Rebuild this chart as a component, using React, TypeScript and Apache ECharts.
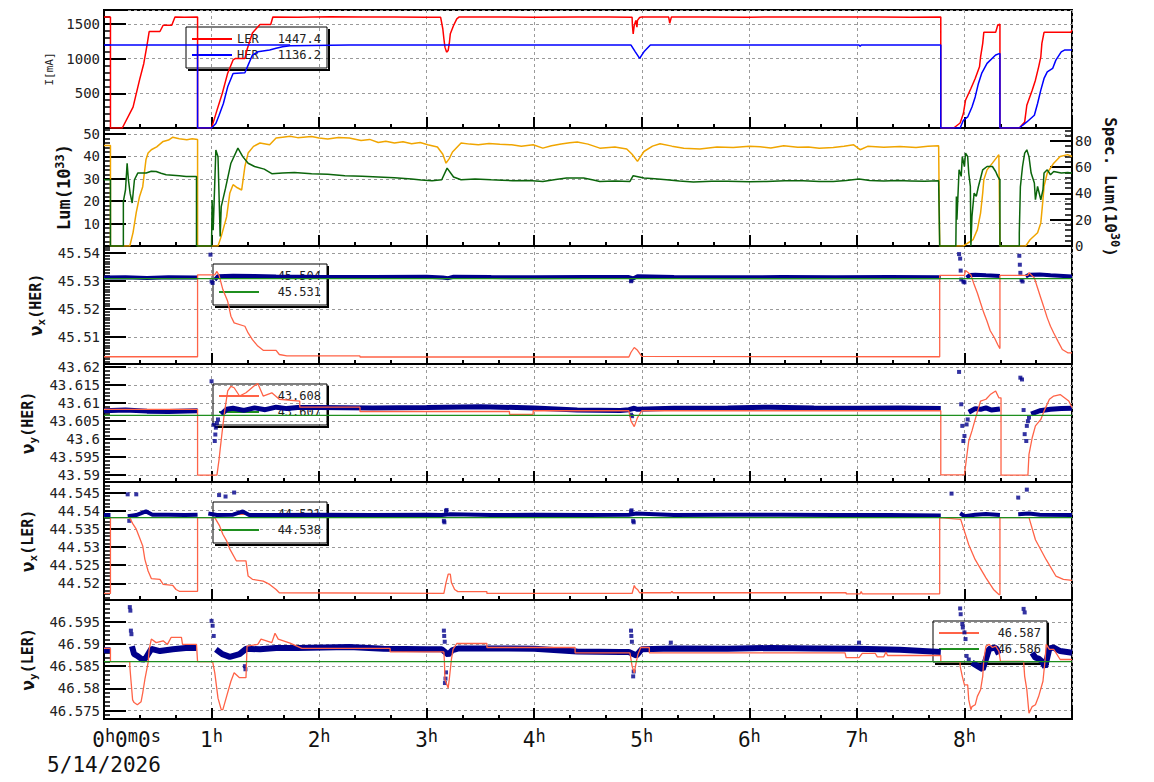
import React, { useEffect, useRef } from "react";
import * as echarts from "echarts";

type Pt = [number, number | string];

const dateLabel = "5/14/2026";

const lerCurrent: Pt[] = [
  [0, 1598], [0.06, 1600], [0.06, 0], [0.17, 0], [0.27, 300], [0.33, 690], [0.37, 930], [0.4, 1195], [0.42, 1390], [0.52, 1390],
  [0.55, 1480], [0.63, 1480], [0.66, 1600], [0.75, 1596], [0.87, 1600], [0.87, 0],
  [1.0, 0], [1.05, 254], [1.1, 500], [1.15, 790], [1.2, 980], [1.22, 1000], [1.31, 1000], [1.33, 1130], [1.38, 1370], [1.45, 1490],
  [1.55, 1490], [1.57, 1600], [1.8, 1597], [2.1, 1601], [2.4, 1598], [2.7, 1600], [3.0, 1597],
  [3.13, 1595], [3.15, 1430], [3.16, 1286], [3.17, 1165], [3.185, 1093], [3.2, 1117], [3.21, 1214], [3.22, 1358], [3.25, 1477], [3.28, 1573], [3.3, 1598],
  [3.6, 1600], [4.0, 1597], [4.4, 1600], [4.7, 1598], [4.91, 1595], [4.913, 1477], [4.92, 1357], [4.93, 1477], [4.945, 1550], [4.955, 1454],
  [4.96, 1550], [4.98, 1592], [5.0, 1598], [5.25, 1598], [5.26, 1510], [5.275, 1598], [5.6, 1600], [6.0, 1597], [6.4, 1600], [6.8, 1598],
  [7.2, 1600], [7.5, 1597], [7.78, 1599], [7.78, 0],
  [7.9, 0], [7.96, 72], [7.99, 208], [8.01, 400], [8.06, 569], [8.1, 714], [8.14, 881], [8.15, 1026], [8.17, 1220], [8.18, 1378],
  [8.29, 1378], [8.31, 1484], [8.33, 1494], [8.33, 0],
  [8.51, 0], [8.56, 87], [8.58, 328], [8.63, 545], [8.66, 689], [8.69, 881], [8.71, 1026], [8.72, 1220], [8.74, 1378], [8.99, 1378], [9.0, 1410],
];
const herCurrent: Pt[] = [
  [0, 1195], [0.87, 1195], [0.87, 0], [1.0, 0], [1.04, 64], [1.07, 184], [1.11, 353], [1.15, 593], [1.2, 786], [1.31, 795], [1.34, 906],
  [1.38, 1051], [1.43, 1098], [1.54, 1123], [1.6, 1148], [1.66, 1171], [1.73, 1185], [2.28, 1195],
  [4.9, 1195], [4.94, 1098], [4.98, 1003], [5.02, 1098], [5.08, 1195], [7.02, 1195], [7.03, 1176], [7.04, 1195], [7.78, 1195], [7.78, 0],
  [7.96, 0], [7.99, 111], [8.03, 159], [8.07, 303], [8.1, 448], [8.13, 642], [8.16, 786], [8.21, 931], [8.29, 1051], [8.33, 1075], [8.33, 0],
  [8.51, 0], [8.54, 39], [8.58, 87], [8.65, 184], [8.68, 353], [8.71, 545], [8.74, 714], [8.77, 809], [8.82, 858], [8.85, 978],
  [8.9, 1098], [8.93, 1123], [9.0, 1123],
];
const herCurrentHold: Pt[] = [[0.87, 1195], [1.73, 1195]];

const lum: Pt[] = [
  [0, 44.9], [0.06, 44.9], [0.06, 0], [0.24, 0], [0.27, 6], [0.3, 15], [0.33, 22], [0.36, 26.5], [0.39, 38.5], [0.41, 41.5], [0.44, 43],
  [0.49, 44.3], [0.55, 46.7], [0.6, 47.3], [0.64, 48.6], [0.7, 47.9], [0.77, 47.5], [0.82, 47.9], [0.87, 47.6], [0.87, 0],
  [1.06, 0], [1.09, 4.3], [1.14, 13], [1.17, 23.7], [1.2, 27.4], [1.24, 26], [1.28, 25], [1.31, 35.5], [1.34, 41.5], [1.39, 44.5],
  [1.45, 46], [1.54, 45.2], [1.6, 48.2], [1.66, 48.6], [1.73, 49], [1.8, 48.4], [1.93, 48.9], [2.0, 48.2], [2.08, 47.8], [2.18, 48.5],
  [2.28, 48.2], [2.39, 47.1], [2.47, 47.6], [2.55, 46.2], [2.62, 46.8], [2.7, 46], [2.78, 46.6], [2.86, 45.7], [2.94, 46.2], [3.01, 45.2],
  [3.1, 44.2], [3.15, 41], [3.18, 37], [3.21, 39], [3.24, 42], [3.32, 46], [3.4, 45.5], [3.48, 45.2], [3.58, 45.8], [3.68, 45.4],
  [3.79, 45.2], [3.88, 44.6], [3.99, 45.2], [4.08, 43.7], [4.16, 44.8], [4.25, 45.6], [4.33, 46.1], [4.4, 46.4], [4.5, 45.5], [4.61, 43.7],
  [4.75, 44.2], [4.86, 43.3], [4.91, 41], [4.96, 37.8], [5.02, 42.2], [5.1, 44.6], [5.17, 45.7], [5.28, 44.6], [5.39, 43.7], [5.54, 43.3],
  [5.7, 44.2], [5.85, 44], [6.0, 44.6], [6.1, 44.3], [6.2, 43.8], [6.32, 44.8], [6.45, 44.1], [6.55, 44.2], [6.65, 43.7], [6.78, 44],
  [6.88, 44.6], [6.97, 45.2], [7.03, 43], [7.1, 44.5], [7.25, 44.1], [7.4, 44.4], [7.55, 44.0], [7.66, 44.5], [7.76, 44.8], [7.77, 0],
  [7.99, 0], [8.08, 2.8], [8.12, 7.3], [8.15, 14.7], [8.17, 23.7], [8.18, 29.6], [8.21, 34], [8.26, 37], [8.32, 40.8], [8.33, 0],
  [8.57, 0], [8.61, 2.8], [8.68, 5.9], [8.71, 10.3], [8.73, 20.7], [8.74, 26.6], [8.77, 32.6], [8.83, 37], [8.89, 40], [8.96, 40.8], [9.0, 40],
];
const specLum: Pt[] = [
  [0, 50.4], [0.06, 50.4], [0.06, 0], [0.18, 0], [0.18, 34], [0.2, 42.8], [0.215, 63], [0.227, 50.4], [0.243, 40], [0.262, 32.7],
  [0.283, 50.4], [0.314, 55.5], [0.392, 55.5], [0.44, 56.9], [0.485, 56.7], [0.53, 55.4], [0.578, 54.2], [0.7, 53.5], [0.764, 52.9], [0.86, 52.9], [0.86, 0],
  [1.0, 0], [1.005, 35], [1.015, 12], [1.04, 73], [1.06, 68], [1.08, 7.3], [1.09, 30], [1.13, 44], [1.18, 63], [1.245, 74.5],
  [1.29, 68], [1.34, 63], [1.4, 60.5], [1.49, 58.5], [1.56, 55], [1.66, 55.6], [1.77, 56], [1.93, 55], [2.08, 54.6], [2.24, 53.5],
  [2.4, 53.1], [2.55, 52.5], [2.7, 51.9], [2.86, 51], [2.95, 50.2], [3.05, 49.7], [3.14, 50.4], [3.19, 59.3], [3.25, 52.5], [3.32, 50.4],
  [3.45, 50.9], [3.6, 50.4], [3.7, 50.1], [3.8, 49.7], [3.95, 49.8], [4.08, 49.1], [4.2, 50.6], [4.3, 51.7], [4.46, 51.7], [4.55, 50.3],
  [4.61, 49.1], [4.75, 49.5], [4.89, 49.1], [4.92, 53.5], [5.02, 51.7], [5.12, 51.2], [5.23, 50.4], [5.35, 49.4], [5.48, 48.7],
  [5.65, 49.2], [5.8, 49.3], [6.0, 48.9], [6.16, 49.1], [6.33, 49.6], [6.5, 49.6], [6.65, 49.0], [6.78, 49.1], [6.9, 49.8], [7.02, 51],
  [7.12, 49.9], [7.25, 49.4], [7.38, 49.8], [7.5, 49.5], [7.63, 49.2], [7.76, 49.7], [7.77, 0],
  [7.92, 0], [7.925, 37.7], [7.93, 20], [7.95, 58], [7.97, 53], [7.98, 68], [8.0, 60.5], [8.01, 70.7], [8.03, 68], [8.04, 55.5],
  [8.055, 45.3], [8.06, 0], [8.07, 22.5], [8.09, 40.3], [8.11, 37.7], [8.13, 45.3], [8.17, 58], [8.21, 60.5], [8.26, 60.5], [8.29, 56.7],
  [8.31, 53], [8.33, 50.4], [8.33, 0],
  [8.51, 0], [8.51, 10], [8.52, 45], [8.54, 60.5], [8.56, 70.7], [8.58, 73.2], [8.6, 68], [8.62, 55.5], [8.65, 48], [8.66, 35.2],
  [8.68, 45.3], [8.71, 35.2], [8.73, 42.8], [8.74, 55.5], [8.77, 58], [8.8, 54.2], [8.83, 56.7], [8.9, 55.5], [8.96, 56], [9.0, 55.5],
];

const herXBand: Pt[] = [
  [0, 45.5312], [0.2, 45.5313], [0.4, 45.5311], [0.6, 45.5313], [0.87, 45.5312], [0.9, "-"],
  [1.03, 45.5304], [1.06, 45.5317], [1.2, 45.5319], [1.4, 45.5318], [1.6, 45.5316], [2.0, 45.5314], [2.5, 45.5314],
  [3.0, 45.5315], [3.15, 45.5312], [3.2, 45.531], [3.25, 45.5315], [3.6, 45.5314], [4.0, 45.5313], [4.5, 45.5314], [4.88, 45.5314],
  [4.92, 45.5309], [4.96, 45.5317], [5.3, 45.5314], [5.8, 45.5313], [6.3, 45.5314], [6.8, 45.5313], [7.3, 45.5314],
  [7.78, 45.5313], [7.85, "-"],
  [8.02, 45.5312], [8.05, 45.5321], [8.1, 45.5322], [8.2, 45.532], [8.33, 45.5318], [8.4, "-"],
  [8.57, 45.5316], [8.6, 45.5322], [8.7, 45.5323], [8.8, 45.532], [9.0, 45.5316],
];
const herXOutliers: Pt[] = [
  [0.99, 45.5394], [1.0, 45.5298], [1.01, 45.5293], [4.9, 45.5299], [4.905, 45.5302], [7.95, 45.5396], [7.96, 45.538], [7.965, 45.5337],
  [7.97, 45.5305], [7.99, 45.5298], [8.0, 45.5295], [8.51, 45.539], [8.515, 45.5358], [8.52, 45.5329], [8.53, 45.5303], [8.54, 45.5298],
];
const herXSet: Pt[] = [
  [0, 45.5029], [0.87, 45.5029], [0.87, 45.5322], [1.03, 45.5322], [1.05, 45.5334], [1.07, 45.532], [1.105, 45.5269], [1.15, 45.5227],
  [1.18, 45.5174], [1.21, 45.515], [1.31, 45.5138], [1.34, 45.5114], [1.38, 45.509], [1.43, 45.5067], [1.48, 45.5052], [1.6, 45.5052],
  [1.63, 45.5037], [1.7, 45.5032], [2.38, 45.5032], [2.38, 45.5028], [4.88, 45.5028], [4.9, 45.5045], [4.93, 45.5062], [4.96, 45.5052],
  [5.0, 45.503], [7.77, 45.5029], [7.77, 45.532], [8.0, 45.532], [8.01, 45.5337], [8.06, 45.5322], [8.09, 45.5287], [8.12, 45.5257],
  [8.15, 45.5221], [8.18, 45.5186], [8.21, 45.5156], [8.24, 45.5122], [8.28, 45.5096], [8.31, 45.5072], [8.33, 45.5058], [8.33, 45.532],
  [8.59, 45.532], [8.6, 45.5329], [8.65, 45.5311], [8.68, 45.5275], [8.71, 45.5239], [8.74, 45.5204], [8.77, 45.5168], [8.8, 45.5138],
  [8.83, 45.5114], [8.87, 45.5084], [8.91, 45.5055], [8.96, 45.5043], [9.0, 45.5043],
];
const herXRef: Pt[] = [[0, 45.5308], [9, 45.5308]];

const herYBand: Pt[] = [
  [0, 43.6079], [0.2, 43.6081], [0.4, 43.6078], [0.6, 43.6077], [0.87, 43.6079], [0.9, "-"],
  [1.09, 43.6069], [1.14, 43.6083], [1.2, 43.6086], [1.3, 43.608], [1.4, 43.6087], [1.5, 43.6082], [1.6, 43.6089],
  [1.7, 43.6085], [1.8, 43.6088], [2.0, 43.6088], [2.5, 43.6087], [3.0, 43.6088], [3.5, 43.609], [4.0, 43.6087], [4.4, 43.6081],
  [4.8, 43.608], [4.88, 43.6082], [4.93, 43.6086], [4.96, 43.6083], [5.3, 43.6086], [5.8, 43.6087], [6.2, 43.6089],
  [6.6, 43.6087], [7.0, 43.6086], [7.4, 43.6087], [7.78, 43.6085], [7.85, "-"],
  [8.04, 43.6075], [8.1, 43.6085], [8.15, 43.6083], [8.2, 43.6087], [8.25, 43.6081], [8.33, 43.6084], [8.4, "-"],
  [8.62, 43.607], [8.7, 43.6079], [8.8, 43.6083], [8.9, 43.6085], [9.0, 43.6086],
];
const herYOutliers: Pt[] = [
  [1.0, 43.6161], [1.02, 43.604], [1.03, 43.5995], [1.035, 43.6013], [1.04, 43.6032], [1.05, 43.6045], [1.06, 43.6055], [4.9, 43.6068],
  [4.91, 43.6064], [7.95, 43.6187], [7.97, 43.6097], [7.98, 43.6037], [7.99, 43.5995], [8.0, 43.6009], [8.02, 43.6041], [8.03, 43.6055],
  [8.52, 43.6171], [8.535, 43.6166], [8.55, 43.6081], [8.56, 43.6014], [8.575, 43.5995], [8.58, 43.6037], [8.59, 43.605], [8.6, 43.606],
];
const herYSet: Pt[] = [
  [0, 43.6083], [0.87, 43.6083], [0.87, 43.59], [1.05, 43.59], [1.07, 43.5944], [1.08, 43.5972], [1.105, 43.6037], [1.12, 43.6074],
  [1.15, 43.6134], [1.18, 43.6147], [1.21, 43.6143], [1.26, 43.612], [1.32, 43.6129], [1.4, 43.6149], [1.43, 43.6155], [1.48, 43.612],
  [1.56, 43.6129], [1.63, 43.6111], [1.82, 43.6106], [1.82, 43.6089], [2.38, 43.6089], [2.38, 43.6077], [3.77, 43.6077], [3.77, 43.6069],
  [3.99, 43.6069], [3.99, 43.6079], [4.88, 43.6079], [4.9, 43.605], [4.93, 43.6035], [4.96, 43.606], [5.0, 43.6079], [7.78, 43.6079],
  [7.78, 43.5901], [8.0, 43.5901], [8.02, 43.5949], [8.04, 43.5995], [8.07, 43.6023], [8.1, 43.6055], [8.15, 43.6106], [8.2, 43.6111],
  [8.24, 43.6124], [8.29, 43.6134], [8.32, 43.6115], [8.34, 43.6115], [8.34, 43.59], [8.59, 43.59], [8.6, 43.5958], [8.63, 43.6004],
  [8.66, 43.6037], [8.71, 43.6055], [8.74, 43.6078], [8.79, 43.6111], [8.83, 43.612], [8.89, 43.6124], [8.97, 43.6106], [9.0, 43.6088],
];
const herYRef: Pt[] = [[0, 43.6066], [9, 43.6066]];

const lerXBand: Pt[] = [
  [0, 44.5388], [0.06, 44.5388], [0.1, "-"],
  [0.22, 44.5385], [0.3, 44.5388], [0.39, 44.5398], [0.45, 44.5389], [0.6, 44.5389], [0.75, 44.5388], [0.87, 44.5389], [0.9, "-"],
  [0.97, 44.5392], [1.05, 44.5388], [1.2, 44.5389], [1.29, 44.5398], [1.35, 44.5388], [1.6, 44.5388], [2.0, 44.5389], [2.5, 44.5388],
  [3.0, 44.5389], [3.14, 44.5388], [3.22, 44.539], [3.6, 44.5388], [4.0, 44.5389], [4.5, 44.5388],
  [4.88, 44.5389], [4.95, 44.5392], [5.3, 44.5388], [5.8, 44.5389], [6.3, 44.5389], [6.8, 44.5388],
  [7.3, 44.5388], [7.78, 44.5387], [7.85, "-"],
  [7.96, 44.5393], [8.0, 44.5385], [8.1, 44.5389], [8.2, 44.5391], [8.33, 44.5388], [8.4, "-"],
  [8.5, 44.539], [8.6, 44.5392], [8.7, 44.5389], [9.0, 44.5388],
];
const lerXOutliers: Pt[] = [
  [0.22, 44.5445], [0.3, 44.5445], [0.235, 44.5372], [1.07, 44.5443], [1.13, 44.5439], [1.21, 44.545], [3.16, 44.5372], [3.165, 44.5368],
  [3.18, 44.5399], [3.185, 44.5402], [4.9, 44.5398], [4.905, 44.5401], [4.92, 44.5372], [4.925, 44.5368], [7.88, 44.5447], [8.5, 44.5436], [8.58, 44.5458],
];
const lerXSet: Pt[] = [
  [0, 44.5172], [0.06, 44.5172], [0.06, 44.5381], [0.24, 44.5381], [0.245, 44.5376], [0.27, 44.5363], [0.3, 44.5349], [0.33, 44.5326],
  [0.36, 44.5303], [0.38, 44.5266], [0.41, 44.5234], [0.44, 44.5213], [0.52, 44.5211], [0.55, 44.5197], [0.64, 44.5194], [0.67, 44.5183],
  [0.7, 44.5178], [0.87, 44.5178], [0.87, 44.5381], [1.03, 44.5381], [1.075, 44.5358], [1.105, 44.5335], [1.14, 44.5317], [1.17, 44.5294],
  [1.23, 44.5262], [1.32, 44.5262], [1.34, 44.522], [1.38, 44.5211], [1.48, 44.5206], [1.54, 44.5197], [1.6, 44.5183], [1.63, 44.5174],
  [3.16, 44.5172], [3.18, 44.5202], [3.2, 44.5225], [3.22, 44.5225], [3.23, 44.5202], [3.26, 44.5183], [3.29, 44.5177], [3.56, 44.5177],
  [3.56, 44.5172], [4.91, 44.5172], [4.93, 44.5194], [4.94, 44.5188], [4.96, 44.5183], [4.98, 44.5174], [5.27, 44.5174], [5.28, 44.5178],
  [5.29, 44.5174], [6.9, 44.5174], [6.9, 44.5171], [7.03, 44.5171], [7.04, 44.5177], [7.05, 44.5171], [7.77, 44.5171], [7.77, 44.5381],
  [7.965, 44.5376], [8.04, 44.5306], [8.1, 44.5265], [8.2, 44.5215], [8.27, 44.5183], [8.32, 44.5169], [8.33, 44.5169], [8.33, 44.5381],
  [8.6, 44.5381], [8.66, 44.532], [8.76, 44.5265], [8.85, 44.522], [8.92, 44.5211], [9.0, 44.5208],
];
const lerXRef: Pt[] = [[0, 44.5381], [9, 44.5381]];

const lerYBand: Pt[] = [
  [0, 46.5886], [0.06, 46.5886], [0.1, "-"],
  [0.26, 46.5895], [0.28, 46.5877], [0.31, 46.5873], [0.36, 46.5864], [0.39, 46.5869], [0.44, 46.5889], [0.52, 46.5884], [0.64, 46.5888],
  [0.76, 46.5891], [0.86, 46.5891], [0.9, "-"],
  [1.04, 46.5888], [1.1, 46.5877], [1.17, 46.5871], [1.26, 46.5877], [1.32, 46.5889], [1.45, 46.5888], [1.6, 46.5891],
  [1.8, 46.5891], [2.28, 46.5893], [2.6, 46.5889], [3.0, 46.5888], [3.14, 46.5888], [3.2, 46.5876], [3.24, 46.5886],
  [3.3, 46.589], [3.6, 46.589], [4.0, 46.5889], [4.4, 46.5883], [4.8, 46.5882], [4.88, 46.5882], [4.95, 46.5874],
  [5.0, 46.5888], [5.3, 46.589], [5.8, 46.5889], [6.2, 46.5891], [6.6, 46.589], [7.0, 46.5889], [7.4, 46.5887],
  [7.78, 46.5882], [7.85, "-"],
  [8.07, 46.5858], [8.13, 46.5849], [8.17, 46.5843], [8.23, 46.5889], [8.29, 46.5892], [8.32, 46.5877], [8.4, "-"],
  [8.63, 46.588], [8.66, 46.5869], [8.69, 46.5867], [8.72, 46.5861], [8.75, 46.5848], [8.79, 46.589], [8.83, 46.5892], [8.89, 46.5884], [9.0, 46.588],
];
const lerYOutliers: Pt[] = [
  [0.24, 46.5983], [0.245, 46.5975], [0.25, 46.593], [0.255, 46.5922], [1.0, 46.5952], [1.01, 46.5941], [1.02, 46.5918], [1.31, 46.585],
  [1.315, 46.5843], [3.16, 46.593], [3.163, 46.5918], [3.168, 46.5905], [3.17, 46.5812], [3.175, 46.5822], [3.18, 46.5836],
  [4.9, 46.593], [4.903, 46.5918], [4.908, 46.5905], [4.92, 46.5827], [4.925, 46.5838], [5.27, 46.5903], [7.02, 46.5903],
  [7.96, 46.598], [7.965, 46.5967], [7.98, 46.5945], [7.985, 46.5937], [8.0, 46.5926], [8.01, 46.5911], [8.02, 46.5873], [8.04, 46.5865],
  [8.55, 46.5979], [8.56, 46.5971],
];
const lerYSet: Pt[] = [
  [0, 46.589], [0.06, 46.589], [0.06, 46.586], [0.24, 46.586], [0.24, 46.585], [0.25, 46.582], [0.266, 46.5774], [0.28, 46.5768],
  [0.31, 46.5763], [0.345, 46.577], [0.36, 46.579], [0.38, 46.582], [0.41, 46.5858], [0.42, 46.5888], [0.44, 46.5911], [0.485, 46.5903],
  [0.55, 46.5907], [0.59, 46.5899], [0.625, 46.5915], [0.72, 46.5915], [0.73, 46.5899], [0.86, 46.5899], [0.87, 46.586], [1.01, 46.586],
  [1.03, 46.5835], [1.06, 46.5778], [1.09, 46.5752], [1.105, 46.5752], [1.14, 46.5782], [1.18, 46.5816], [1.21, 46.5835], [1.26, 46.5824],
  [1.32, 46.5824], [1.33, 46.5895], [1.43, 46.5899], [1.46, 46.5911], [1.56, 46.5903], [1.59, 46.5924], [1.62, 46.5911], [1.73, 46.5902],
  [1.84, 46.589], [2.66, 46.589], [2.66, 46.5882], [3.16, 46.5882], [3.165, 46.5861], [3.17, 46.582], [3.2, 46.5801], [3.21, 46.582],
  [3.23, 46.5865], [3.245, 46.5888], [3.28, 46.5901], [3.56, 46.5901], [3.56, 46.5892], [4.38, 46.5892], [4.38, 46.588], [4.89, 46.588],
  [4.91, 46.585], [4.93, 46.5835], [4.95, 46.5861], [4.965, 46.5877], [4.99, 46.5892], [5.07, 46.5892], [5.07, 46.588], [6.89, 46.588],
  [6.9, 46.5869], [7.02, 46.5869], [7.05, 46.5879], [7.17, 46.5879], [7.19, 46.5871], [7.25, 46.5871], [7.27, 46.5882], [7.285, 46.5874],
  [7.78, 46.5874], [7.78, 46.586], [7.96, 46.586], [7.96, 46.585], [7.98, 46.5827], [8.0, 46.5808], [8.03, 46.5808], [8.04, 46.5774],
  [8.06, 46.5752], [8.07, 46.5759], [8.1, 46.5763], [8.12, 46.5782], [8.15, 46.5797], [8.17, 46.5827], [8.18, 46.5865], [8.2, 46.5895],
  [8.23, 46.5899], [8.26, 46.5892], [8.29, 46.5895], [8.32, 46.5884], [8.335, 46.5861], [8.55, 46.5861], [8.56, 46.5827], [8.58, 46.5797],
  [8.6, 46.5744], [8.63, 46.5759], [8.66, 46.5763], [8.69, 46.5782], [8.73, 46.5816], [8.75, 46.5865], [8.76, 46.5899], [8.79, 46.5888],
  [8.83, 46.5888], [8.89, 46.5865], [9.0, 46.5865],
];
const lerYRef: Pt[] = [[0, 46.586], [9, 46.586]];

const legendTexts: Record<string, string> = {
  LER: "{n|LER}{v|1447.4}",
  HER: "{n|HER}{v|1136.2}",
  HERx_set: "{w|45.504}",
  HERx_ref: "{w|45.531}",
  HERy_set: "{w|43.608}",
  HERy_ref: "{w|43.607}",
  LERx_set: "{w|44.521}",
  LERx_ref: "{w|44.538}",
  LERy_set: "{w|46.587}",
  LERy_ref: "{w|46.586}",
};

const FONT = '"DejaVu Sans Mono", monospace';
const TOPS = [10, 128, 246, 364, 482, 600];
const HEIGHTS = [118, 118, 118, 118, 118, 119];
const PLOT_LEFT = 104;
const PLOT_W = 968;
const X_MAX = 9;
const LEGEND_BOXES: [number, number, number, number][] = [
  [186, 27, 141, 41], [213, 264, 113, 41], [213, 384, 113, 41], [213, 502, 113, 41], [933, 621, 113, 41],
];
// y scales: [grid, min, max, splitNumber, minor splits]
const Y_SCALES: [number, number, number, number, number][] = [
  [0, 0, 1700, 3, 5],
  [1, 0, 52.7, 5, 5],
  [1, 0, 89.8, 4, 5],
  [2, 45.5003, 45.5425, 4, 10],
  [3, 43.5881, 43.6209, 7, 5],
  [4, 44.5154, 44.5479, 7, 5],
  [5, 46.5731, 46.5999, 5, 5],
];
const GRID_Y = [0, 1, 3, 4, 5, 6];

const RED = "#ff0000";
const BLUE = "#0000ff";
const ORANGE = "#f0a500";
const DGREEN = "#0b650b";
const TOMATO = "#ff6347";
const GREEN = "#1f8f1f";
const NAVY = "#00008b";

function buildOption(): any {
  const axisLine = { show: true, onZero: false, lineStyle: { color: "#000", width: 2 } };
  const splitLine = { show: true, lineStyle: { color: "#9a9a9a", type: [3, 3], width: 1 } };
  const tickStyle = { color: "#000", width: 2 };

  const grid: any[] = TOPS.map((t, i) => ({
    left: PLOT_LEFT, width: PLOT_W, top: t, height: HEIGHTS[i], show: true,
    borderColor: "#000", borderWidth: 2, backgroundColor: "transparent",
  }));

  const tSty = { fontFamily: FONT, fontSize: 21, lineHeight: 26, color: "#111" };
  const sSty = { fontFamily: FONT, fontSize: 17, lineHeight: 15, verticalAlign: "top", color: "#111" };
  const xAxis: any[] = TOPS.map((_, i) => ({
    type: "value", gridIndex: i, min: 0, max: X_MAX, interval: 1, position: "bottom",
    axisLine, axisTick: { show: false }, minorTick: { show: false },
    splitLine,
    axisLabel: i === 5
      ? {
          show: true, margin: 8, showMinLabel: true, showMaxLabel: false,
          formatter: (v: number) =>
            v === 0
              ? "{t0|0}{s0|h}{t0|0}{s0|m}{t0|0}{s0|s}\n{d|" + dateLabel + "}"
              : "{t|" + Math.round(v) + "}{s|h}",
          rich: {
            t: tSty, s: sSty,
            t0: { ...tSty, align: "right" }, s0: { ...sSty, align: "right" },
            d: { fontFamily: FONT, fontSize: 21, lineHeight: 24, color: "#111" },
          },
        }
      : { show: false },
  }));

  const numFmt = (v: number) => String(parseFloat(v.toFixed(4)));
  const nuRich = {
    g: { fontFamily: FONT, fontSize: 18, fontWeight: "bold", lineHeight: 22, color: "#111" },
    u: { fontFamily: FONT, fontSize: 11, fontWeight: "bold", lineHeight: 12, verticalAlign: "bottom", color: "#111" },
    a: { fontFamily: FONT, fontSize: 15, fontWeight: "bold", lineHeight: 22, color: "#111" },
  };
  const supRich = (size: number) => ({
    a: { fontFamily: FONT, fontSize: size, fontWeight: "bold", lineHeight: 20, color: "#111" },
    s: { fontFamily: FONT, fontSize: 12, fontWeight: "bold", lineHeight: 12, verticalAlign: "top", color: "#111" },
  });

  const yMain = (k: number, position: string, extra: any) => {
    const [g, min, max, splitNumber] = Y_SCALES[k];
    return {
      type: "value", gridIndex: g, position, min, max, splitNumber,
      axisLine, axisTick: { show: false }, minorTick: { show: false },
      splitLine: position === "left" ? splitLine : { show: false },
      axisLabel: {
        margin: position === "left" ? 4 : 3, fontSize: 14, fontFamily: FONT, color: "#222",
        showMinLabel: position !== "left", showMaxLabel: false, formatter: numFmt,
      },
      nameLocation: "middle",
      ...extra,
    };
  };

  const yAxis: any[] = [
    yMain(0, "left", {
      name: "I[mA]", nameGap: 41,
      nameTextStyle: { fontFamily: FONT, fontSize: 11, color: "#222" },
    }),
    yMain(1, "left", { name: "{a|Lum(10}{s|33}{a|)}", nameGap: 20, nameTextStyle: { rich: supRich(17) } }),
    yMain(2, "right", {
      name: "{a|Spec. Lum(10}{s|30}{a|)}", nameGap: 21, nameRotate: -90, nameTextStyle: { rich: supRich(16) },
    }),
    yMain(3, "left", { name: "{g|ν}{u|x}{a|(HER)}", nameGap: 52, nameTextStyle: { rich: nuRich } }),
    yMain(4, "left", { name: "{g|ν}{u|y}{a|(HER)}", nameGap: 62, nameTextStyle: { rich: nuRich } }),
    yMain(5, "left", { name: "{g|ν}{u|x}{a|(LER)}", nameGap: 62, nameTextStyle: { rich: nuRich } }),
    yMain(6, "left", { name: "{g|ν}{u|y}{a|(LER)}", nameGap: 61, nameTextStyle: { rich: nuRich } }),
  ];
  yAxis[0].axisLabel = { ...yAxis[0].axisLabel, formatter: (v: number) => String(Math.round(v)) };

  // ---- tick marks pointing into each panel: outward ticks of helper axes
  //      that sit in neighbouring helper grids and share the panel edge ----
  const hiddenAxis = (gridIndex: number) => ({ type: "value", gridIndex, show: false, min: 0, max: 1 });
  const yTickAxis = (gridIndex: number, k: number, position: string, minorLen: number) => {
    const [, min, max, splitNumber, minorSplit] = Y_SCALES[k];
    return {
      type: "value", gridIndex, position, min, max, splitNumber,
      axisLine: { show: true, onZero: false, lineStyle: { color: "#000", width: 2 } },
      axisTick: { show: true, inside: false, length: 22, lineStyle: tickStyle },
      minorTick: { show: true, splitNumber: minorSplit, length: minorLen, lineStyle: { color: "#000", width: 1.5 } },
      splitLine: { show: false }, axisLabel: { show: false },
    };
  };
  // left helper grids (their right edge is each panel's left edge)
  TOPS.forEach((t, i) => {
    const gi = grid.length;
    grid.push({ left: 4, width: PLOT_LEFT - 4, top: t, height: HEIGHTS[i], show: false });
    xAxis.push(hiddenAxis(gi));
    yAxis.push(yTickAxis(gi, GRID_Y[i], "right", 6));
  });
  // right helper grid for the luminosity panel's right axis
  {
    const gi = grid.length;
    grid.push({ left: PLOT_LEFT + PLOT_W, width: 40, top: TOPS[1], height: HEIGHTS[1], show: false });
    xAxis.push(hiddenAxis(gi));
    yAxis.push(yTickAxis(gi, 2, "left", 7));
  }
  // helper grids below each panel (their top edge is the panel's bottom edge)
  TOPS.forEach((t, i) => {
    const gi = grid.length;
    grid.push({ left: PLOT_LEFT, width: PLOT_W, top: t + HEIGHTS[i], height: 2, show: false });
    xAxis.push({
      type: "value", gridIndex: gi, position: "top", min: 0, max: X_MAX, interval: 1,
      axisLine: { show: true, onZero: false, lineStyle: { color: "#000", width: 2 } },
      axisTick: { show: true, inside: false, length: 11, lineStyle: tickStyle },
      minorTick: { show: true, splitNumber: 3, length: 4, lineStyle: tickStyle },
      splitLine: { show: false }, axisLabel: { show: false },
    });
    yAxis.push(hiddenAxis(gi));
  });

  const line = (name: string | undefined, x: number, y: number, data: Pt[], color: string, width: number, z = 3) => ({
    type: "line", name, xAxisIndex: x, yAxisIndex: y, data, color,
    symbol: "none", showSymbol: false, connectNulls: false, silent: true, z,
    lineStyle: { color, width }, itemStyle: { color },
  });
  const dots = (x: number, y: number, data: Pt[]) => ({
    type: "scatter", xAxisIndex: x, yAxisIndex: y, data, symbol: "rect", symbolSize: 4,
    itemStyle: { color: NAVY }, silent: true, z: 2,
  });

  const series = [
    line("LER", 0, 0, lerCurrent, RED, 1.5),
    line("HER", 0, 0, herCurrent, BLUE, 1.5),
    line("HER", 0, 0, herCurrentHold, BLUE, 1.5),
    line("Lum", 1, 1, lum, ORANGE, 1.5),
    line("SpecLum", 1, 2, specLum, DGREEN, 1.5),

    line(undefined, 2, 3, herXBand, NAVY, 4, 2),
    dots(2, 3, herXOutliers),
    line("HERx_set", 2, 3, herXSet, TOMATO, 1.3),
    line("HERx_ref", 2, 3, herXRef, GREEN, 1.3, 4),

    line(undefined, 3, 4, herYBand, NAVY, 5, 2),
    dots(3, 4, herYOutliers),
    line("HERy_set", 3, 4, herYSet, TOMATO, 1.3),
    line("HERy_ref", 3, 4, herYRef, GREEN, 1.3, 4),

    line(undefined, 4, 5, lerXBand, NAVY, 4, 2),
    dots(4, 5, lerXOutliers),
    line("LERx_set", 4, 5, lerXSet, TOMATO, 1.3),
    line("LERx_ref", 4, 5, lerXRef, GREEN, 1.3, 4),

    line(undefined, 5, 6, lerYBand, NAVY, 6, 2),
    dots(5, 6, lerYOutliers),
    line("LERy_set", 5, 6, lerYSet, TOMATO, 1.3),
    line("LERy_ref", 5, 6, lerYRef, GREEN, 1.3, 4),
  ];

  const txt = { fontFamily: FONT, fontSize: 12, lineHeight: 16, color: "#222" };
  const legendBase = {
    orient: "vertical", selectedMode: false, icon: "rect", itemWidth: 40, itemHeight: 2, itemGap: 0,
    padding: [4, 6, 5, 6], borderColor: "#000", borderWidth: 1, backgroundColor: "transparent", z: 1,
    formatter: (name: string) => legendTexts[name] || name,
    textStyle: {
      ...txt,
      rich: {
        n: { ...txt, width: 40, align: "left" },
        v: { ...txt, width: 44, align: "right" },
        w: { ...txt, width: 57, align: "right" },
      },
    },
  };
  const legendData = [["LER", "HER"], ["HERx_set", "HERx_ref"], ["HERy_set", "HERy_ref"], ["LERx_set", "LERx_ref"], ["LERy_set", "LERy_ref"]];
  const legend = LEGEND_BOXES.map((b, i) => ({ ...legendBase, left: b[0], top: b[1], data: legendData[i] }));

  const graphic = LEGEND_BOXES.map((b) => ({
    type: "polyline", silent: true, z: 1,
    shape: { points: [[b[0] + b[2] + 2, b[1] + 2], [b[0] + b[2] + 2, b[1] + b[3] + 2], [b[0] + 2, b[1] + b[3] + 2]] },
    style: { stroke: "#000", lineWidth: 2, fill: null },
  }));

  return { animation: false, backgroundColor: "#fff", grid, xAxis, yAxis, series, legend, graphic };
}

export default function App() {
  const ref = useRef<HTMLDivElement>(null);
  useEffect(() => {
    document.body.style.margin = "0";
    const chart = echarts.init(ref.current as HTMLDivElement, undefined, { renderer: "svg", width: 1154, height: 782 });
    chart.setOption(buildOption());
    return () => chart.dispose();
  }, []);
  return (
    <div
      ref={ref}
      style={{ position: "absolute", left: 0, top: 0, width: 1154, height: 782, background: "#fff" }}
    />
  );
}
